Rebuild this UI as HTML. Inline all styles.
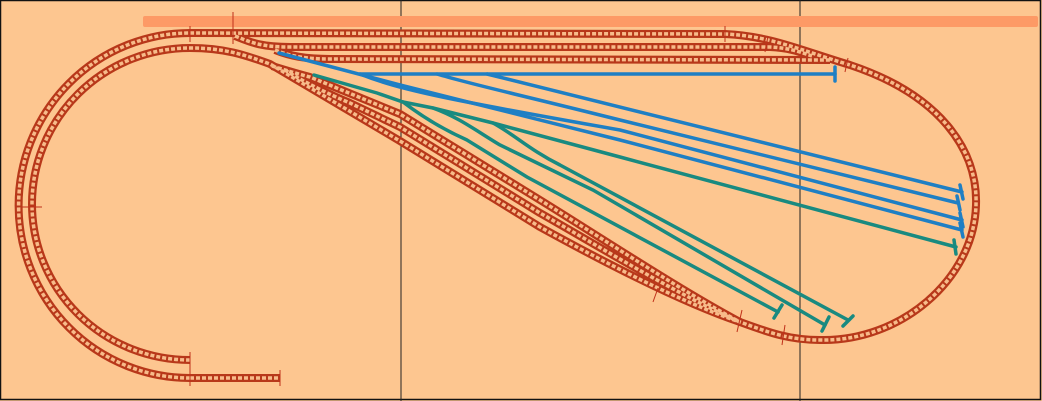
<!DOCTYPE html>
<html><head><meta charset="utf-8"><style>
html,body{margin:0;padding:0;background:#fdc690;}
svg{display:block;}
</style></head><body>
<svg width="1042" height="401" viewBox="0 0 1042 401" xmlns="http://www.w3.org/2000/svg">
<rect x="0" y="0" width="1042" height="401" fill="#fdc690"/>
<rect x="0.5" y="0.5" width="1040" height="399" fill="none" stroke="#111" stroke-width="1.5"/>
<line x1="401" y1="0" x2="401" y2="401" stroke="#222" stroke-width="1"/>
<line x1="800" y1="0" x2="800" y2="401" stroke="#222" stroke-width="1"/>
<rect x="143" y="16" width="895" height="11" fill="#fd9a66" rx="2"/>

<defs>
<g id="tp">
<path d="M190,378 A171,172 0 0 1 190,33 L725,34 C770,36 800,50 850,65 C940,95 978,150 976,205 C974,280 900,342 820,340 C790,340 770,333 740,322"/>
<path d="M190,360 A158,156 0 0 1 190,48 C225,48 245,55 270,64 L400,141 L540,227 C600,260 680,302 740,322"/>
<path d="M285,70 C300,80 330,95 350,103 L400,127 L540,213 C600,247 680,296 740,322"/>
<path d="M272,66 C285,70 298,74 310,77 L400,114 L540,200 C600,237 680,290 740,322"/>
<path d="M235,36 C250,42 260,47 290,47 L770,47 C790,48 800,52 812,56"/>
<path d="M275,50 C290,56 305,59 330,59 L830,60"/>
<path d="M190,378 L280,378"/>
</g>
</defs>
<g fill="none">
<use href="#tp" stroke="#b8381a" stroke-width="8"/>
<use href="#tp" stroke="#f7bb8a" stroke-width="3.5" stroke-dasharray="4 2"/>
<g stroke="#c0301a" stroke-width="1">
<line x1="190" y1="352" x2="190" y2="386"/>
<line x1="280" y1="370" x2="280" y2="386"/>
<line x1="190" y1="26" x2="190" y2="42"/>
<line x1="233" y1="12" x2="233" y2="44"/>
<line x1="22" y1="207" x2="42" y2="207"/>
<line x1="725" y1="26" x2="725" y2="42"/>
<line x1="768" y1="36" x2="765" y2="52"/>
<line x1="848" y1="58" x2="845" y2="72"/>
<line x1="742" y1="310" x2="737" y2="332"/>
<line x1="785" y1="325" x2="782" y2="345"/>
<line x1="658" y1="288" x2="653" y2="302"/>
</g>
</g>

<g fill="none" stroke="#1f7fc4" stroke-width="3.5" stroke-linecap="round">
<path d="M360,74 L835,74"/>
<line x1="835" y1="67" x2="835" y2="81"/>
<path d="M487,74 L962,192"/>
<path d="M437,74 C470,84 500,90 620,120 L958,203"/>
<path d="M360,74 C400,90 450,100 620,130 L962,220"/>
<path d="M279,53 L400,85 L620,140 L962,230"/>
<line x1="960" y1="185" x2="963" y2="199"/>
<line x1="957" y1="196" x2="960" y2="210"/>
<line x1="960" y1="213" x2="963" y2="227"/>
<line x1="960" y1="223" x2="963" y2="237"/>
</g>
<g fill="none" stroke="#198a80" stroke-width="3.5" stroke-linecap="round">
<path d="M314,75 L377,93 L403,102 L433,108 L493,123 L620,157 L956,247"/>
<path d="M403,102 C420,115 440,128 467,140 L527,177 L778,312"/>
<path d="M433,108 C460,118 475,130 500,145 L593,190 L825,325"/>
<path d="M493,123 C515,135 530,150 560,165 L848,320"/>
<line x1="954" y1="240" x2="956" y2="254"/>
<line x1="782" y1="305" x2="774" y2="318"/>
<line x1="829" y1="317" x2="822" y2="331"/>
<line x1="853" y1="316" x2="843" y2="326"/>
</g>
</svg>
</body></html>
